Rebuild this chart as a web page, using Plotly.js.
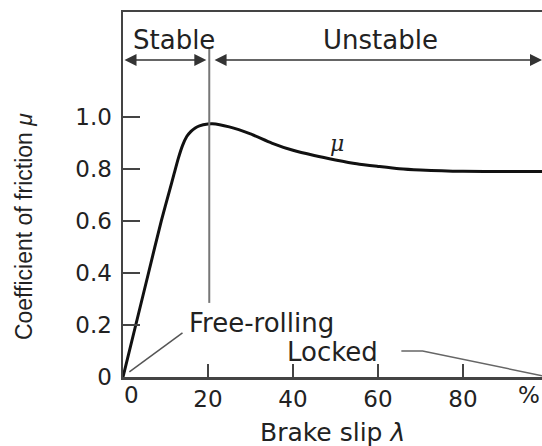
<!DOCTYPE html>
<html>
<head>
<meta charset="utf-8">
<script src="https://cdn.plot.ly/plotly-3.0.1.min.js"></script>
<style>html,body{margin:0;padding:0;background:#fff;}#chart{width:542px;height:446px;}</style>
</head>
<body>
<div id="chart"></div>
<script>
// Friction curve mu(lambda)
const slip = [0, 3, 6, 9, 11, 12, 13, 14, 15, 16, 17, 18, 20, 21, 25, 30, 35, 40, 45, 50, 55, 60, 65, 70, 75, 80, 90, 98.6];
const mu   = [0, 0.20, 0.40, 0.60, 0.72, 0.78, 0.84, 0.89, 0.925, 0.945, 0.958, 0.966, 0.973, 0.974, 0.962, 0.935, 0.90, 0.872, 0.852, 0.835, 0.82, 0.81, 0.801, 0.796, 0.793, 0.791, 0.79, 0.79];

// Boundary between stable and unstable region
const boundaryX = [20.3, 20.3];
const boundaryY = [0.285, 1.265];

// Leader lines
const freeRollX = [1.5, 14];
const freeRollY = [0.02, 0.17];
const lockedX = [65.5, 70.5, 98.6];
const lockedY = [0.10, 0.10, 0.005];

// Region arrows [start, end]
const stableSpan = [0, 19.6];
const unstableSpan = [21.2, 98.6];
const spanY = 1.219;

// Ticks
const yTickVals = [0, 0.2, 0.4, 0.6, 0.8, 1.0];
const yTickText = ['0', '0.2', '0.4', '0.6', '0.8', '1.0'];
const xTickVals = [20, 40, 60, 80];
const xTickText = ['20', '40', '60', '80'];

const TXT = '#222';
const AX = '#444';
const F = 'DejaVu Sans, sans-serif';

const traces = [
  {x: slip, y: mu, mode: 'lines', line: {color: '#111', width: 3, shape: 'spline', smoothing: 0.6}, hoverinfo: 'skip'},
  {x: boundaryX, y: boundaryY, mode: 'lines', line: {color: '#777', width: 2}, hoverinfo: 'skip'},
  {x: freeRollX, y: freeRollY, mode: 'lines', line: {color: '#555', width: 1.5}, hoverinfo: 'skip'},
  {x: lockedX, y: lockedY, mode: 'lines', line: {color: '#666', width: 1.5}, hoverinfo: 'skip'}
];

function spanArrow(span) {
  return {x: span[1], y: spanY, ax: span[0], ay: spanY, xref: 'x', yref: 'y', axref: 'x', ayref: 'y',
    text: '', showarrow: true, arrowside: 'end+start', arrowhead: 2, arrowsize: 1.6, arrowwidth: 1.5,
    arrowcolor: '#333', standoff: 0, startstandoff: 0};
}

function label(x, y, xref, yref, text, font, extra) {
  return Object.assign({x: x, y: y, xref: xref, yref: yref, text: text, showarrow: false,
    xanchor: 'center', yanchor: 'middle', font: font}, extra || {});
}

const annotations = [
  spanArrow(stableSpan),
  spanArrow(unstableSpan),
  label(12, 1.296, 'x', 'y', 'Stable', {family: F, size: 26, color: TXT}),
  label(60.5, 1.296, 'x', 'y', 'Unstable', {family: F, size: 26, color: TXT}),
  label(32.7, 0.208, 'x', 'y', 'Free-rolling', {family: F, size: 26, color: TXT}),
  label(49.2, 0.096, 'x', 'y', 'Locked', {family: F, size: 26, color: TXT}),
  label(50.4, 0.90, 'x', 'y', '<i>μ</i>', {family: 'DejaVu Serif, serif', size: 22, color: TXT}),
  label(2.1, -0.049, 'x', 'paper', '0', {family: F, size: 23, color: TXT}),
  label(1.0, -0.049, 'paper', 'paper', '%', {family: F, size: 23, color: TXT}, {xanchor: 'right'}),
  label(0.5, -0.151, 'paper', 'paper', 'Brake slip <i>λ</i>', {family: F, size: 25, color: TXT}),
  label(-0.236, 0.411, 'paper', 'paper', 'Coefficient of friction <i>μ</i>', {family: 'Liberation Sans, Arial, sans-serif', size: 23, color: TXT}, {textangle: -90})
];

const layout = {
  width: 542, height: 446,
  margin: {l: 123, r: 0, t: 12, b: 69, pad: 0},
  paper_bgcolor: '#fff', plot_bgcolor: '#fff',
  showlegend: false,
  xaxis: {range: [0, 98.6], showgrid: false, zeroline: false, showline: true, mirror: true, linecolor: AX, linewidth: 2.5,
    ticks: 'inside', ticklen: 13, tickwidth: 2.5, tickcolor: AX, tickvals: xTickVals, ticktext: xTickText,
    ticklabelstandoff: 0, tickfont: {family: F, size: 23, color: TXT}, fixedrange: true},
  yaxis: {range: [0, 1.404], showgrid: false, zeroline: false, showline: true, linecolor: AX, linewidth: 2.5,
    ticks: 'inside', ticklen: 17, tickwidth: 2.5, tickcolor: AX, tickvals: yTickVals, ticktext: yTickText,
    ticklabelstandoff: 4, tickfont: {family: F, size: 23, color: TXT}, fixedrange: true},
  annotations: annotations
};

Plotly.newPlot('chart', traces, layout, {displayModeBar: false, staticPlot: true});
</script>
</body>
</html>
